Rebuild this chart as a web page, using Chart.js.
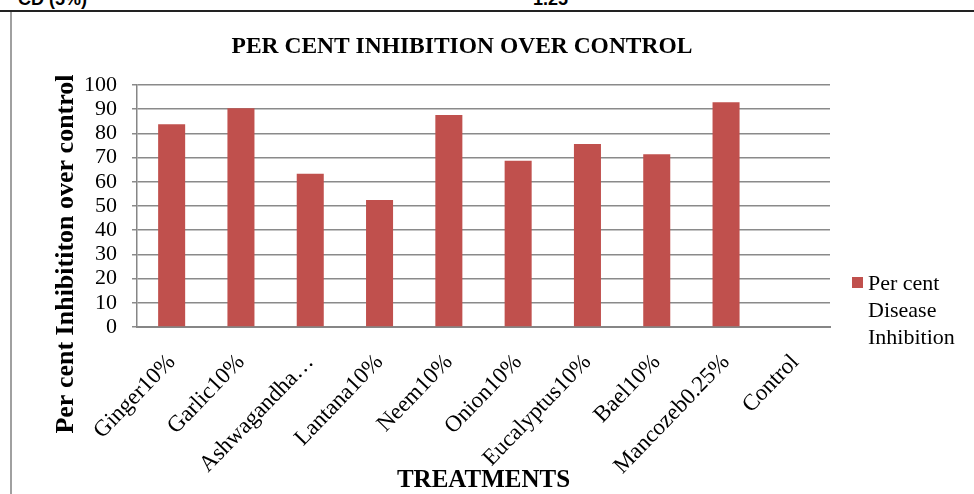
<!DOCTYPE html>
<html>
<head>
<meta charset="utf-8">
<script src="https://cdn.jsdelivr.net/npm/chart.js@4.4.1/dist/chart.umd.min.js"></script>
<style>
    html, body { margin: 0; padding: 0; background: #fff; }
    #page { position: relative; width: 974px; height: 494px; overflow: hidden; }
    .cut { position: absolute; font: bold 18px "Liberation Sans", Arial, sans-serif; line-height: 18px; top: -10px; }
    #hline { position: absolute; left: 0; top: 10px; width: 974px; height: 1.5px; background: #222; }
    #vline { position: absolute; left: 10px; top: 12px; width: 2px; height: 482px; background: #a0a0a0; }
    canvas { position: absolute; left: 0; top: 0; }
</style>
</head>
<body>
<div id="page">
    <div class="cut" style="left:18px;">CD (5%)</div>
    <div class="cut" style="left:533px;">1.25</div>
    <div id="hline"></div>
    <div id="vline"></div>
    <canvas id="graficaInhibicion" width="974" height="494"></canvas>
</div>
<script>
const tratamientos = ['Ginger10%', 'Garlic10%', 'Ashwagandha…', 'Lantana10%', 'Neem10%',
    'Onion10%', 'Eucalyptus10%', 'Bael10%', 'Mancozeb0.25%', 'Control'];
const inhibicion = [83.8, 90.4, 63.3, 52.5, 87.6, 68.7, 75.6, 71.4, 92.9, 0];
const serieEtiqueta = ['Per cent', 'Disease', 'Inhibition'];
const tituloGrafica = 'PER CENT INHIBITION OVER CONTROL';
const tituloY = 'Per cent Inhibititon over control';

const serif = "'Liberation Serif', 'Times New Roman', serif";
const rojo = '#C0504D';

// titulo, leyenda y titulo del eje Y dibujados a mano (Excel los coloca fuera del centro)
const extras = {
    id: 'extras',
    afterDraw(chart) {
        const ctx = chart.ctx;
        const area = chart.chartArea;
        ctx.save();
        ctx.fillStyle = '#000';
        ctx.textBaseline = 'middle';
        ctx.textAlign = 'center';
        ctx.font = 'bold 23.5px ' + serif;
        ctx.fillText(tituloGrafica, 462, 47);

        ctx.fillStyle = rojo;
        ctx.fillRect(area.right + 22, 277, 11, 11);
        ctx.fillStyle = '#000';
        ctx.font = '22px ' + serif;
        ctx.textAlign = 'left';
        serieEtiqueta.forEach((linea, i) => {
            ctx.fillText(linea, area.right + 38, 284 + i * 27);
        });

        ctx.translate(66, 254);
        ctx.rotate(-Math.PI / 2);
        ctx.textAlign = 'center';
        ctx.font = 'bold 26px ' + serif;
        ctx.fillText(tituloY, 0, 0);
        ctx.restore();
    }
};

document.addEventListener('DOMContentLoaded', function () {
    const canvas = document.getElementById('graficaInhibicion');

    new Chart(canvas, {
        type: 'bar',
        data: {
            labels: tratamientos,
            datasets: [{
                label: serieEtiqueta.join(' '),
                data: inhibicion,
                backgroundColor: rojo,
                borderWidth: 0,
                barPercentage: 0.39,
                categoryPercentage: 1
            }]
        },
        options: {
            responsive: false,
            animation: false,
            devicePixelRatio: 1,
            layout: {
                padding: { left: 0, right: 144, top: 85, bottom: 0 }
            },
            plugins: {
                legend: { display: false },
                tooltip: { enabled: false },
                title: { display: false }
            },
            scales: {
                x: {
                    grid: { display: false, drawTicks: false },
                    border: { display: true, color: '#868686', width: 2 },
                    ticks: {
                        color: '#000',
                        font: { family: serif, size: 23 },
                        maxRotation: 46,
                        minRotation: 46,
                        autoSkip: false,
                        padding: 22
                    },
                    title: {
                        display: true,
                        text: 'TREATMENTS',
                        color: '#000',
                        font: { family: serif, size: 25, weight: 'bold' },
                        padding: { top: 0, bottom: -2 }
                    },
                    afterFit(scale) { scale.height = 167; }
                },
                y: {
                    min: 0,
                    max: 100,
                    grid: { color: '#8a8a8a', lineWidth: 1.5, tickLength: 5 },
                    border: { display: true, color: '#868686', width: 1.5 },
                    ticks: {
                        stepSize: 10,
                        autoSkip: false,
                        color: '#000',
                        font: { family: serif, size: 22 },
                        padding: 15
                    },
                    afterFit(scale) { scale.width = 137; }
                }
            }
        },
        plugins: [extras]
    });
});
</script>
</body>
</html>
